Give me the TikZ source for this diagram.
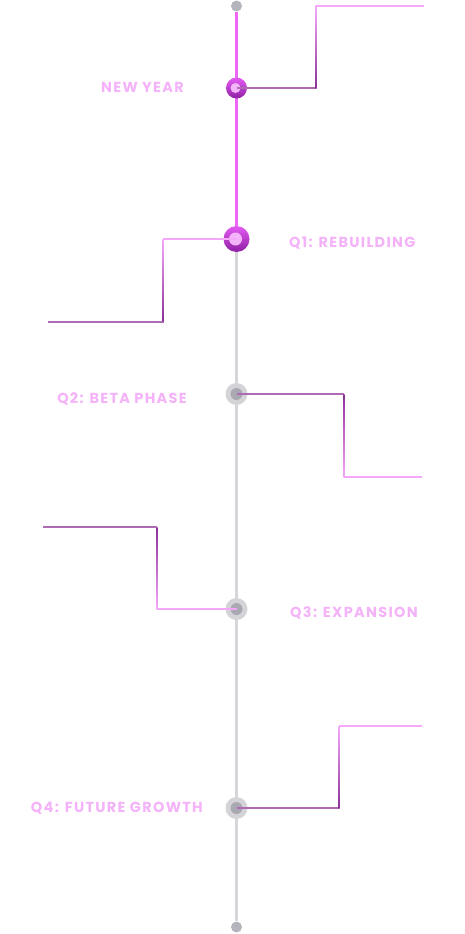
\documentclass[tikz,border=0pt]{standalone}
\usepackage{fontspec}
\newfontfamily\labelfont{Poppins}[LetterSpace=9]
\usetikzlibrary{calc}

\definecolor{railpink}{HTML}{EE66F6}
\definecolor{railgray}{HTML}{D6D6DA}
\definecolor{dotgray}{HTML}{B4B4BC}
\definecolor{labelpink}{HTML}{F4B2F9}
\definecolor{wirepink}{HTML}{F5A8FA}
\definecolor{wiremauve}{HTML}{AE6AB2}
\definecolor{wiredark}{HTML}{8A3096}
\definecolor{ringtop}{HTML}{E35BF2}
\definecolor{ringbot}{HTML}{8E1FA3}
\definecolor{corepink}{HTML}{F4B4F9}
\definecolor{ringgray}{HTML}{D4D4D8}
\definecolor{coregray}{HTML}{A9A9B1}

\tikzset{
  rail/.style={line width=3pt},
  enddot/.style={circle, fill=dotgray, minimum size=11pt, inner sep=0pt},
  activering/.style={circle, inner sep=0pt, top color=ringtop, bottom color=ringbot},
  activecore/.style={circle, inner sep=0pt, fill=corepink},
  idlering/.style={circle, inner sep=0pt, fill=ringgray, minimum size=22pt},
  idlecore/.style={circle, inner sep=0pt, fill=coregray, minimum size=12pt},
  wire/.style={line width=1.2pt},
  lbl/.style={font=\labelfont\bfseries\fontsize{14.5}{14.5}\selectfont, text=labelpink,
    inner sep=0pt, text height=10pt, text depth=0pt}
}

\newcommand{\vwire}[4]{% vertical wire segment shaded from #3 (top) to #4 (bottom)
  \shade[top color=#3, bottom color=#4] ($(#1)+(-0.6,0)$) rectangle ($(#2)+(0.6,0)$);}

\begin{document}
\begin{tikzpicture}[x=1pt, y=-1pt]
\useasboundingbox (0,0) rectangle (464,934);

% rail end dots
\node[enddot] (top) at (236.5,6) {};
\node[enddot] (bottom) at (236.5,927) {};

% milestone positions
\coordinate (pny) at (236.5,88);
\coordinate (pq1) at (236.5,239);
\coordinate (pq2) at (236.5,394);
\coordinate (pq3) at (236.5,609);
\coordinate (pq4) at (236.5,808);

% rail
\draw[rail, railgray] (pq1) -- (bottom);
\draw[rail, railpink, line width=3.5pt] (top) -- (pq1);

% milestones
\node[activering, minimum size=21pt] (ny) at (pny) {};
\node[activecore, minimum size=10pt] (nyc) at ($(ny)+(-1,0)$) {};
\node[activering, minimum size=26pt] (q1) at (pq1) {};
\node[activecore, minimum size=13pt] (q1c) at ($(q1)+(-1,0)$) {};
\node[idlering] (q2) at (pq2) {};
\node[idlecore] (q2c) at (pq2) {};
\node[idlering] (q3) at (pq3) {};
\node[idlecore] (q3c) at (pq3) {};
\node[idlering] (q4) at (pq4) {};
\node[idlecore] (q4c) at (pq4) {};

% labels
\node[lbl, anchor=east] (lny) at (184,87.5) {NEW YEAR};
\node[lbl, anchor=west] (lq1) at (289,242) {Q1: REBUILDING};
\node[lbl, anchor=east] (lq2) at (187,398.5) {Q2: BETA PHASE};
\node[lbl, anchor=west] (lq3) at (290,612) {Q3: EXPANSION};
\node[lbl, anchor=east] (lq4) at (203,807.5) {Q4: FUTURE GROWTH};

% wire: new year
\coordinate (w1a) at (316,88);
\coordinate (w1b) at (316,6);
\coordinate (w1c) at (424,6);
\draw[wire, wiremauve] (ny.center) -- (w1a);
\vwire{w1b}{w1a}{wirepink}{wiredark}
\draw[wire, wirepink] (w1b) -- (w1c);

% wire: q1
\coordinate (w2a) at (163,239);
\coordinate (w2b) at (163,322);
\coordinate (w2c) at (48,322);
\draw[wire, wirepink] (q1.center) -- (w2a);
\vwire{w2a}{w2b}{wirepink}{wiredark}
\draw[wire, wiremauve] (w2b) -- (w2c);

% wire: q2
\coordinate (w3a) at (344,394);
\coordinate (w3b) at (344,477);
\coordinate (w3c) at (422,477);
\draw[wire, wiremauve] (q2.center) -- (w3a);
\vwire{w3a}{w3b}{wiredark}{wirepink}
\draw[wire, wirepink] (w3b) -- (w3c);

% wire: q3
\coordinate (w4a) at (157,609);
\coordinate (w4b) at (157,527);
\coordinate (w4c) at (43,527);
\draw[wire, wirepink] (q3.center) -- (w4a);
\vwire{w4b}{w4a}{wiredark}{wirepink}
\draw[wire, wiremauve] (w4b) -- (w4c);

% wire: q4
\coordinate (w5a) at (339,808);
\coordinate (w5b) at (339,726);
\coordinate (w5c) at (422,726);
\draw[wire, wiremauve] (q4.center) -- (w5a);
\vwire{w5b}{w5a}{wirepink}{wiredark}
\draw[wire, wirepink] (w5b) -- (w5c);
\end{tikzpicture}
\end{document}
